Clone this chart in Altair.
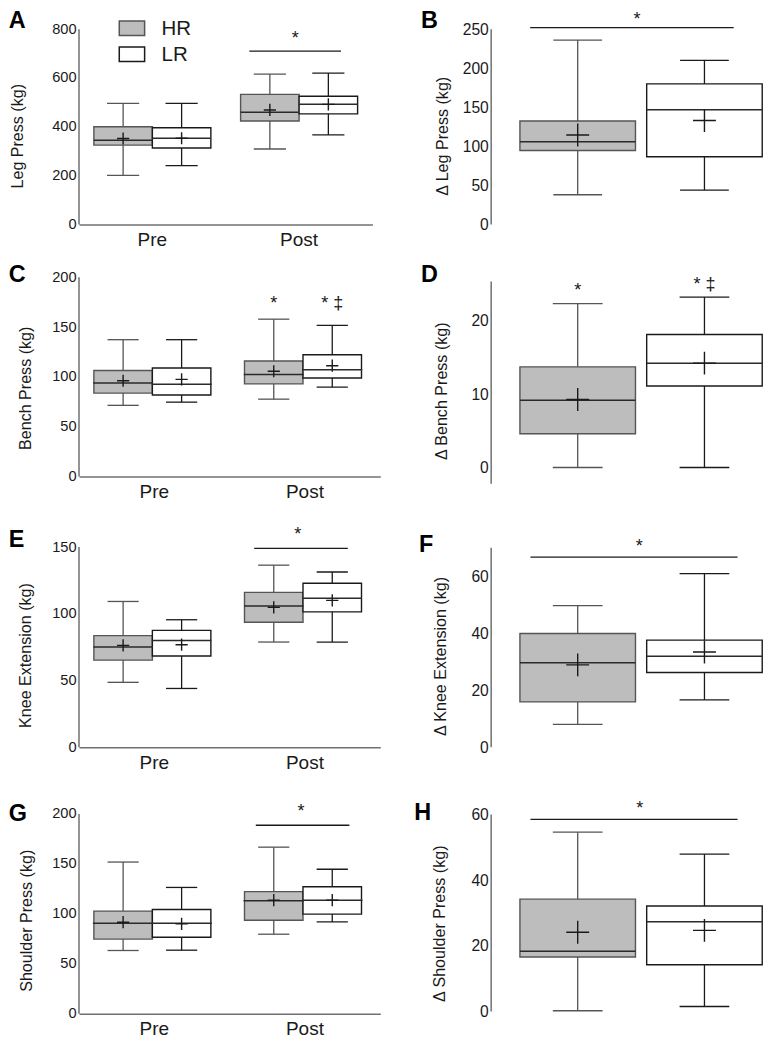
import altair as alt
import pandas as pd

K = 0.975
FONT = "Liberation Sans"
HR_FILL = "#bdbdbd"
LR_FILL = "#ffffff"
HR_STROKE = "#555555"
LR_STROKE = "#1a1a1a"
AXIS_COLOR = "#707070"
INK = "#1a1a1a"
CROSS = "M-1,0L1,0M0,-1L0,1"
STAR_SIZE = 18.5


def px(v):
    return round(v * K, 2)


# ---------------- data ----------------
GROUPS = ["Pre", "Pre", "Post", "Post"]
SERIES4 = ["HR", "LR", "HR", "LR"]
SERIES2 = ["HR", "LR"]

# A  Leg Press (kg)
LEG_LOWER = [201, 241, 309, 367]
LEG_Q1 = [325, 313, 424, 453]
LEG_MEDIAN = [345, 353, 460, 492]
LEG_Q3 = [400, 396, 533, 525]
LEG_UPPER = [496, 496, 616, 620]
LEG_MEAN = [352, 353, 469, 492]
LEG_TICKS = [0, 200, 400, 600, 800]
LEG_AXIS = [0, 800]
LEG_DOMAIN = [0, 886.6]
LEG_SIG = 709.7
LEG_STAR = 740

# B  Δ Leg Press (kg)
DLEG_LOWER = [38, 44]
DLEG_Q1 = [94.6, 86.7]
DLEG_MEDIAN = [106, 146.7]
DLEG_Q3 = [132.5, 180]
DLEG_UPPER = [236, 210]
DLEG_MEAN = [114.6, 133]
DLEG_TICKS = [0, 50, 100, 150, 200, 250]
DLEG_AXIS = [0, 250]
DLEG_DOMAIN = [0, 277.1]
DLEG_SIG = 252
DLEG_STAR = 255.5

# C  Bench Press (kg)
BENCH_LOWER = [71.5, 74.7, 77.7, 89.7]
BENCH_Q1 = [83.8, 81.9, 93, 98.9]
BENCH_MEDIAN = [94, 92.7, 102.4, 107.3]
BENCH_Q3 = [106.4, 109, 116, 122.3]
BENCH_UPPER = [137.4, 137.4, 158, 151.7]
BENCH_MEAN = [96.2, 97.6, 105.7, 111.3]
BENCH_TICKS = [0, 50, 100, 150, 200]
BENCH_AXIS = [0, 200]
BENCH_DOMAIN = [0, 217.3]
BENCH_MARK_GROUP = ["Post", "Post"]
BENCH_MARK_SERIES = ["HR", "LR"]
BENCH_MARK_TEXT = ["*", "* \u2021"]
BENCH_MARK_Y = [168, 168]

# D  Δ Bench Press (kg)
DBENCH_LOWER = [0, 0]
DBENCH_Q1 = [4.6, 11.1]
DBENCH_MEDIAN = [9.16, 14.2]
DBENCH_Q3 = [13.7, 18.1]
DBENCH_UPPER = [22.3, 23.2]
DBENCH_MEAN = [9.25, 14.2]
DBENCH_TICKS = [0, 10, 20]
DBENCH_AXIS = [-2.2, 25.3]
DBENCH_DOMAIN = [-1.234, 28.23]
DBENCH_MARK_SERIES = ["HR", "LR"]
DBENCH_MARK_TEXT = ["*", "* \u2021"]
DBENCH_MARK_Y = [23.3, 24.2]

# E  Knee Extension (kg)
KNEE_LOWER = [48.6, 44, 78.8, 78.8]
KNEE_Q1 = [65.2, 68.3, 93.6, 101.4]
KNEE_MEDIAN = [75.1, 80, 105.8, 111.6]
KNEE_Q3 = [83.6, 87.5, 116, 122.8]
KNEE_UPPER = [109.2, 95.5, 136.4, 131.3]
KNEE_MEAN = [76.3, 76.8, 104.8, 110]
KNEE_TICKS = [0, 50, 100, 150]
KNEE_AXIS = [0, 150]
KNEE_DOMAIN = [0, 176.1]
KNEE_SIG = 149
KNEE_STAR = 155.4

# F  Δ Knee Extension (kg)
DKNEE_LOWER = [8, 16.6]
DKNEE_Q1 = [15.9, 26.2]
DKNEE_MEDIAN = [29.6, 31.9]
DKNEE_Q3 = [39.9, 37.6]
DKNEE_UPPER = [49.7, 60.9]
DKNEE_MEAN = [28.9, 33.4]
DKNEE_TICKS = [0, 20, 40, 60]
DKNEE_AXIS = [0, 70]
DKNEE_DOMAIN = [0, 82.5]
DKNEE_SIG = 66.7
DKNEE_STAR = 68.6

# G  Shoulder Press (kg)
SHO_LOWER = [63.4, 63.7, 79.7, 92]
SHO_Q1 = [74.8, 76.7, 93.7, 99.8]
SHO_MEDIAN = [90.7, 90.7, 113.2, 113.8]
SHO_Q3 = [102.8, 104.4, 122.3, 127.2]
SHO_UPPER = [151.9, 126.5, 166.8, 144.7]
SHO_MEAN = [91.7, 90, 113.8, 113.8]
SHO_TICKS = [0, 50, 100, 150, 200]
SHO_AXIS = [0, 200]
SHO_DOMAIN = [0, 231.7]
SHO_SIG = 188.7
SHO_STAR = 196.9

# H  Δ Shoulder Press (kg)
DSHO_LOWER = [0.2, 1.5]
DSHO_Q1 = [16.6, 14.2]
DSHO_MEDIAN = [18.3, 27.3]
DSHO_Q3 = [34.2, 32.1]
DSHO_UPPER = [54.6, 47.9]
DSHO_MEAN = [24.1, 24.7]
DSHO_TICKS = [0, 20, 40, 60]
DSHO_AXIS = [0, 60]
DSHO_DOMAIN = [-0.74, 69.8]
DSHO_SIG = 58.5
DSHO_STAR = 60.0


def make_df(kind, lower, q1, median, q3, upper, mean):
    d = {"group": GROUPS, "series": SERIES4} if kind == "left" else {"series": SERIES2}
    d.update(lower=lower, q1=q1, median=median, q3=q3, upper=upper, mean=mean)
    return pd.DataFrame(d)


fill_scale = alt.Scale(domain=SERIES2, range=[HR_FILL, LR_FILL])
stroke_scale = alt.Scale(domain=SERIES2, range=[HR_STROKE, LR_STROKE])


def panel(kind, df, letter, ytitle, ticks, axis_ext, domain, lay,
          sig=None, star=None, marks=None, legend=False):
    W, H = lay["W"], lay["H"]
    ysc = alt.Scale(domain=domain, nice=False, zero=False)
    if kind == "left":
        p = (W / 2 / lay["box"] - 2) / 2
        xsc = alt.Scale(paddingInner=0, paddingOuter=0)
        xosc = alt.Scale(paddingInner=0, paddingOuter=p)
        xaxis = alt.Axis(title=None, labelAngle=0, ticks=False, tickSize=0, domain=True,
                         domainColor=AXIS_COLOR, domainWidth=1.5, grid=False,
                         labelFontSize=px(19.5), labelPadding=px(6), labelColor=INK,
                         labelFont=FONT)

        def xenc():
            return {"x": alt.X("group:N", sort=["Pre", "Post"], scale=xsc, axis=xaxis),
                    "xOffset": alt.XOffset("series:N", sort=SERIES2, scale=xosc)}
    else:
        step = lay["box"] + lay["gap"]
        pi = lay["gap"] / step
        po = (W / step - 2 + pi) / 2
        xsc = alt.Scale(paddingInner=pi, paddingOuter=po, align=1)

        def xenc():
            return {"x": alt.X("series:N", sort=SERIES2, scale=xsc, axis=None)}

    yaxis = alt.Axis(values=ticks, domain=False, ticks=False, tickSize=0, grid=False,
                     title=ytitle, titleX=-px(lay["tx"]), titleY=px(lay["ty"]),
                     titleAngle=270, titleBaseline="middle", titleAlign="center",
                     titleFontSize=px(16.5), titleFontWeight="normal", titleColor=INK,
                     titleFont=FONT, labelFont=FONT,
                     labelFontSize=px(lay["lab"]), labelPadding=px(3), labelColor=INK)

    def y(field):
        return alt.Y(f"{field}:Q", scale=ysc, axis=yaxis)

    def fill_enc():
        return alt.Fill("series:N", scale=fill_scale, legend=None)

    def stroke_enc():
        return alt.Stroke("series:N", scale=stroke_scale, legend=None)

    layers = []
    # box first (it carries the axes)
    layers.append(alt.Chart(df).mark_bar(strokeWidth=1.4).encode(
        **xenc(), y=y("q1"), y2=alt.Y2("q3"), fill=fill_enc(), stroke=stroke_enc()))
    axis_df = pd.DataFrame({"lo": [axis_ext[0]], "hi": [axis_ext[1]]})
    layers.append(alt.Chart(axis_df).mark_rule(color=AXIS_COLOR, strokeWidth=1.5).encode(
        x=alt.value(0), y=y("lo"), y2=alt.Y2("hi")))
    layers.append(alt.Chart(df).mark_rule(strokeWidth=1.3).encode(
        **xenc(), y=y("lower"), y2=alt.Y2("q1"), stroke=stroke_enc()))
    layers.append(alt.Chart(df).mark_rule(strokeWidth=1.3).encode(
        **xenc(), y=y("q3"), y2=alt.Y2("upper"), stroke=stroke_enc()))
    for f in ["lower", "upper"]:
        layers.append(alt.Chart(df).mark_tick(size=px(lay["cap"]), thickness=1.3, opacity=1).encode(
            **xenc(), y=y(f), color=alt.Color("series:N", scale=stroke_scale, legend=None)))
    layers.append(alt.Chart(df).mark_tick(size=px(lay["box"]), thickness=1.5, opacity=1,
                                          color="#2a2a2a").encode(**xenc(), y=y("median")))
    layers.append(alt.Chart(df).mark_point(shape=CROSS, size=px(lay["cross"]) ** 2, filled=False,
                                           strokeWidth=1.4, opacity=1, color=INK).encode(
        **xenc(), y=y("mean")))
    if sig is not None:
        sv, x1, x2 = sig
        layers.append(alt.Chart(pd.DataFrame({"y": [sv]})).mark_rule(
            color=INK, strokeWidth=1.3).encode(
            x=alt.value(px(x1)), x2=alt.value(px(x2)), y=y("y")))
    if star is not None:
        stv, sx = star
        layers.append(alt.Chart(pd.DataFrame({"y": [stv], "t": ["*"]})).mark_text(
            fontSize=px(STAR_SIZE), color=INK, align="center", baseline="alphabetic", font=FONT).encode(
            x=alt.value(px(sx)), y=y("y"), text="t:N"))
    if marks is not None:
        layers.append(alt.Chart(marks).mark_text(
            fontSize=px(STAR_SIZE), color=INK, align="center", baseline="alphabetic", font=FONT).encode(
            **xenc(), y=y("y"), text="t:N"))
    layers.append(alt.Chart(pd.DataFrame({"t": [letter]})).mark_text(
        fontSize=px(24), fontWeight="bold", align="left", baseline="alphabetic",
        color="#000000", font=FONT).encode(
        x=alt.value(px(lay["lx"])), y=alt.value(px(lay["ly"])), text="t:N"))
    if legend:
        leg_df = pd.DataFrame({"series": SERIES2})
        for i, s in enumerate(SERIES2):
            top = 13.3 + i * 26.7
            one = alt.Chart(leg_df).transform_filter(alt.datum.series == s)
            layers.append(one.mark_rect(strokeWidth=1.5).encode(
                x=alt.value(px(41.3)), x2=alt.value(px(67.3)),
                y=alt.value(px(top)), y2=alt.value(px(top + 15)),
                fill=fill_enc(), stroke=stroke_enc()))
            layers.append(one.mark_text(fontSize=px(21), align="left", baseline="middle",
                                        color=INK, font=FONT).encode(
                x=alt.value(px(84.7)), y=alt.value(px(top + 8.2)), text="series:N"))
    return alt.layer(*layers).properties(width=px(W), height=px(H))


# layout (reference pixels)
LA = dict(W=301, H=222, box=60, cap=33, cross=12.5, lab=15, tx=63.5, ty=131, lx=-72, ly=20)
LB = dict(W=278, H=222, box=118.5, gap=11.5, cap=50, cross=23.5, lab=16, tx=50, ty=131, lx=-72, ly=20)
LC = dict(W=309, H=222, box=61.5, cap=32, cross=12.5, lab=15, tx=55, ty=131, lx=-72, ly=22)
LD = dict(W=278, H=222, box=118.5, gap=11.5, cap=51, cross=23.5, lab=16, tx=50.5, ty=134, lx=-72, ly=22)
LE = dict(W=309, H=241, box=61, cap=32, cross=12.5, lab=15, tx=55, ty=146.5, lx=-72, ly=35.7)
LF = dict(W=278, H=241, box=118.5, gap=11.5, cap=51, cross=23.5, lab=16, tx=51.5, ty=147.5, lx=-74, ly=41)
LG = dict(W=309, H=237.5, box=62, cap=32, cross=12.5, lab=15, tx=54, ty=141.5, lx=-72, ly=40)
LH = dict(W=278, H=237.5, box=118.5, gap=11.5, cap=51, cross=23.5, lab=16, tx=53, ty=144.5, lx=-79, ly=39)

pA = panel("left", make_df("left", LEG_LOWER, LEG_Q1, LEG_MEDIAN, LEG_Q3, LEG_UPPER, LEG_MEAN),
           "A", "Leg Press (kg)", LEG_TICKS, LEG_AXIS, LEG_DOMAIN, LA,
           sig=(LEG_SIG, 174.7, 268.7), star=(LEG_STAR, 221.8), legend=True)
pB = panel("right", make_df("right", DLEG_LOWER, DLEG_Q1, DLEG_MEDIAN, DLEG_Q3, DLEG_UPPER, DLEG_MEAN),
           "B", "\u0394 Leg Press (kg)", DLEG_TICKS, DLEG_AXIS, DLEG_DOMAIN, LB,
           sig=(DLEG_SIG, 40, 248.7), star=(DLEG_STAR, 149.7))
pC = panel("left", make_df("left", BENCH_LOWER, BENCH_Q1, BENCH_MEDIAN, BENCH_Q3, BENCH_UPPER, BENCH_MEAN),
           "C", "Bench Press (kg)", BENCH_TICKS, BENCH_AXIS, BENCH_DOMAIN, LC,
           marks=pd.DataFrame({"group": BENCH_MARK_GROUP, "series": BENCH_MARK_SERIES,
                               "t": BENCH_MARK_TEXT, "y": BENCH_MARK_Y}))
pD = panel("right", make_df("right", DBENCH_LOWER, DBENCH_Q1, DBENCH_MEDIAN, DBENCH_Q3, DBENCH_UPPER, DBENCH_MEAN),
           "D", "\u0394 Bench Press (kg)", DBENCH_TICKS, DBENCH_AXIS, DBENCH_DOMAIN, LD,
           marks=pd.DataFrame({"series": DBENCH_MARK_SERIES, "t": DBENCH_MARK_TEXT, "y": DBENCH_MARK_Y}))
pE = panel("left", make_df("left", KNEE_LOWER, KNEE_Q1, KNEE_MEDIAN, KNEE_Q3, KNEE_UPPER, KNEE_MEAN),
           "E", "Knee Extension (kg)", KNEE_TICKS, KNEE_AXIS, KNEE_DOMAIN, LE,
           sig=(KNEE_SIG, 179.7, 275.7), star=(KNEE_STAR, 224.3))
pF = panel("right", make_df("right", DKNEE_LOWER, DKNEE_Q1, DKNEE_MEDIAN, DKNEE_Q3, DKNEE_UPPER, DKNEE_MEAN),
           "F", "\u0394 Knee Extension (kg)", DKNEE_TICKS, DKNEE_AXIS, DKNEE_DOMAIN, LF,
           sig=(DKNEE_SIG, 40.3, 252.7), star=(DKNEE_STAR, 151.8))
pG = panel("left", make_df("left", SHO_LOWER, SHO_Q1, SHO_MEDIAN, SHO_Q3, SHO_UPPER, SHO_MEAN),
           "G", "Shoulder Press (kg)", SHO_TICKS, SHO_AXIS, SHO_DOMAIN, LG,
           sig=(SHO_SIG, 181.3, 277.3), star=(SHO_STAR, 227.7))
pH = panel("right", make_df("right", DSHO_LOWER, DSHO_Q1, DSHO_MEDIAN, DSHO_Q3, DSHO_UPPER, DSHO_MEAN),
           "H", "\u0394 Shoulder Press (kg)", DSHO_TICKS, DSHO_AXIS, DSHO_DOMAIN, LH,
           sig=(DSHO_SIG, 40.3, 252.7), star=(DSHO_STAR, 152.3))

chart = alt.concat(
    pA, pB, pC, pD, pE, pF, pG, pH,
    columns=2,
    spacing={"row": px(36), "column": px(113)},
    bounds="flush",
    padding=0,
).configure(font=FONT).configure_view(stroke=None)

chart.save("out.html", embed_options={"renderer": "svg", "actions": False})
